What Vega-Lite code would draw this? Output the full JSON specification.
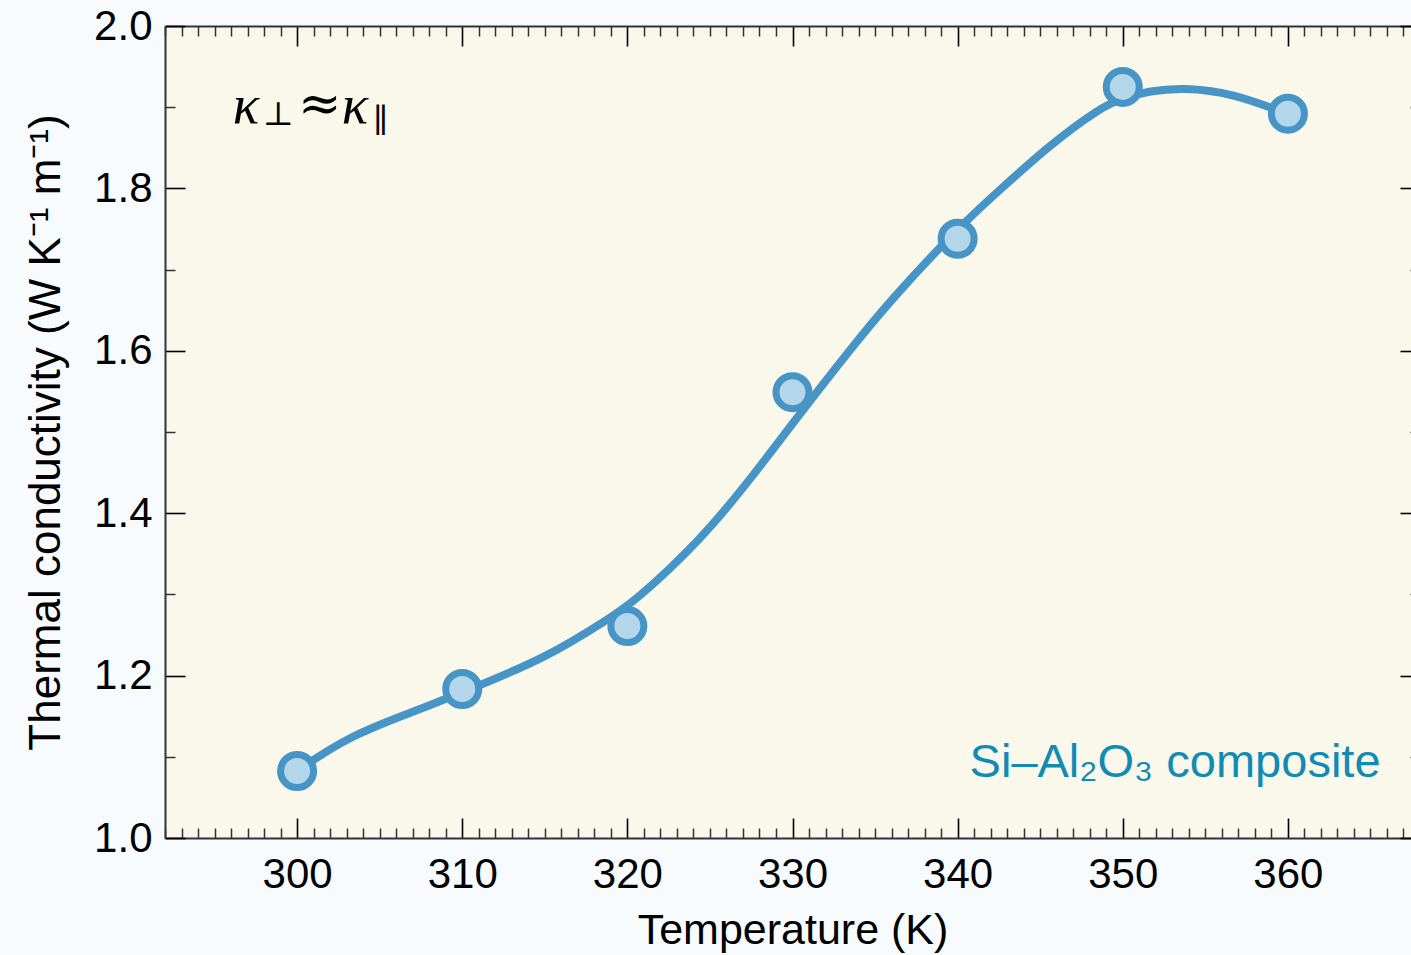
{
  "$schema": "https://vega.github.io/schema/vega-lite/v6.json",
  "width": 1255,
  "height": 812,
  "autosize": {"type": "none"},
  "padding": {"left": 165, "top": 26, "right": -9, "bottom": 117},
  "background": "#f7fbfd",
  "config": {
    "view": {"fill": "#faf7eb", "stroke": null},
    "font": "Liberation Sans",
    "axis": {"grid": false, "labelFont": "Liberation Sans", "titleFont": "Liberation Sans", "labelColor": "#000", "titleColor": "#000", "titleFontWeight": "normal", "labelFlush": false, "labelOverlap": false, "domainColor": "#333", "domainWidth": 2}
  },
  "datasets": {
    "points": [
      {"T": 300, "k": 1.0825},
      {"T": 310, "k": 1.1835},
      {"T": 320, "k": 1.261},
      {"T": 330, "k": 1.549},
      {"T": 340, "k": 1.738},
      {"T": 350, "k": 1.925},
      {"T": 360, "k": 1.892}
    ],
    "curve": [
      {"T": 300.0, "k": 1.0825},
      {"T": 303.02, "k": 1.1244},
      {"T": 307.01, "k": 1.1552},
      {"T": 310.04, "k": 1.1798},
      {"T": 315.12, "k": 1.2217},
      {"T": 319.12, "k": 1.2734},
      {"T": 320.33, "k": 1.2894},
      {"T": 324.39, "k": 1.3658},
      {"T": 327.42, "k": 1.4409},
      {"T": 330.44, "k": 1.5222},
      {"T": 333.47, "k": 1.601},
      {"T": 335.89, "k": 1.6613},
      {"T": 340.01, "k": 1.7512},
      {"T": 342.54, "k": 1.798},
      {"T": 345.57, "k": 1.8534},
      {"T": 348.6, "k": 1.899},
      {"T": 349.99, "k": 1.9113},
      {"T": 351.63, "k": 1.92},
      {"T": 353.62, "k": 1.9243},
      {"T": 356.65, "k": 1.9175},
      {"T": 359.98, "k": 1.8916}
    ]
  },
  "resolve": {"scale": {"x": "shared", "y": "shared"}, "axis": {"x": "independent", "y": "independent"}},
  "layer": [
    {
      "data": {"name": "curve"},
      "mark": {"type": "line", "interpolate": "basis", "color": "#4795c6", "strokeWidth": 8, "strokeCap": "round"},
      "encoding": {
        "x": {"field": "T", "type": "quantitative", "scale": {"domain": [292, 368], "nice": false, "zero": false},
          "axis": {"orient": "bottom", "values": [300, 310, 320, 330, 340, 350, 360], "tickSize": -20, "tickColor": "#000", "tickWidth": 1.6, "labelFontSize": 42, "labelPadding": 36, "title": "Temperature (K)", "titleFontSize": 43, "titlePadding": 14}},
        "y": {"field": "k", "type": "quantitative", "scale": {"domain": [1.0, 2.0], "nice": false, "zero": false},
          "axis": {"orient": "left", "values": [1.0, 1.2, 1.4, 1.6, 1.8, 2.0], "format": ".1f", "tickSize": -20, "tickColor": "#000", "tickWidth": 1.6, "labelFontSize": 42, "labelPadding": 33, "title": "Thermal conductivity (W K⁻¹ m⁻¹)", "titleFontSize": 44, "titlePadding": 25}}
      }
    },
    {
      "data": {"name": "points"},
      "mark": {"type": "point", "filled": true, "fill": "#b3d6ea", "stroke": "#4795c6", "strokeWidth": 7, "size": 1090, "opacity": 1, "fillOpacity": 1, "strokeOpacity": 1},
      "encoding": {
        "x": {"field": "T", "type": "quantitative",
          "axis": {"orient": "bottom", "values": [292,293,294,295,296,297,298,299,301,302,303,304,305,306,307,308,309,311,312,313,314,315,316,317,318,319,321,322,323,324,325,326,327,328,329,331,332,333,334,335,336,337,338,339,341,342,343,344,345,346,347,348,349,351,352,353,354,355,356,357,358,359,361,362,363,364,365,366,367], "tickSize": -10, "tickColor": "#333", "tickWidth": 1.5, "labels": false, "domain": false, "title": null}},
        "y": {"field": "k", "type": "quantitative",
          "axis": {"orient": "left", "values": [1.1, 1.3, 1.5, 1.7, 1.9], "tickSize": -10, "tickColor": "#333", "tickWidth": 1.5, "labels": false, "domain": false, "title": null}}
      }
    },
    {
      "data": {"values": [{"T": 365.61, "k": 1.0751, "label": "Si–Al₂O₃ composite"}]},
      "mark": {"type": "text", "align": "right", "baseline": "alphabetic", "fontSize": 47, "font": "Liberation Sans", "color": "#0f8bb4"},
      "encoding": {
        "x": {"field": "T", "type": "quantitative",
          "axis": {"orient": "top", "values": [300, 310, 320, 330, 340, 350, 360], "tickSize": -20, "tickColor": "#000", "tickWidth": 1.6, "labels": false, "title": null}},
        "y": {"field": "k", "type": "quantitative",
          "axis": {"orient": "right", "values": [1.0, 1.2, 1.4, 1.6, 1.8, 2.0], "tickSize": -20, "tickColor": "#000", "tickWidth": 1.6, "labels": false, "title": null}},
        "text": {"field": "label"}
      }
    },
    {
      "data": {"values": [{"T": 296.1, "k": 1.8805, "label": "κ"}, {"T": 302.7, "k": 1.8805, "label": "κ"}]},
      "mark": {"type": "text", "align": "left", "baseline": "alphabetic", "fontSize": 55, "font": "Liberation Serif", "fontStyle": "italic", "color": "#000"},
      "encoding": {
        "x": {"field": "T", "type": "quantitative",
          "axis": {"orient": "top", "values": [292,293,294,295,296,297,298,299,301,302,303,304,305,306,307,308,309,311,312,313,314,315,316,317,318,319,321,322,323,324,325,326,327,328,329,331,332,333,334,335,336,337,338,339,341,342,343,344,345,346,347,348,349,351,352,353,354,355,356,357,358,359,361,362,363,364,365,366,367], "tickSize": -10, "tickColor": "#333", "tickWidth": 1.5, "labels": false, "domain": false, "title": null}},
        "y": {"field": "k", "type": "quantitative",
          "axis": {"orient": "right", "values": [1.1, 1.3, 1.5, 1.7, 1.9], "tickSize": -10, "tickColor": "#333", "tickWidth": 1.5, "labels": false, "domain": false, "title": null}},
        "text": {"field": "label"}
      }
    },
    {
      "data": {"values": [{"T": 297.9, "k": 1.878, "label": "⊥"}]},
      "mark": {"type": "text", "align": "left", "baseline": "alphabetic", "fontSize": 33, "font": "DejaVu Serif", "color": "#000"},
      "encoding": {
        "x": {"field": "T", "type": "quantitative", "axis": null},
        "y": {"field": "k", "type": "quantitative", "axis": null},
        "text": {"field": "label"}
      }
    },
    {
      "data": {"values": [{"T": 300.05, "k": 1.903, "label": "≈"}]},
      "mark": {"type": "text", "align": "left", "baseline": "middle", "fontSize": 52, "font": "DejaVu Serif", "color": "#000"},
      "encoding": {
        "x": {"field": "T", "type": "quantitative", "axis": null},
        "y": {"field": "k", "type": "quantitative", "axis": null},
        "text": {"field": "label"}
      }
    },
    {
      "data": {"values": [{"T": 304.6, "k": 1.8695, "label": "∥"}]},
      "mark": {"type": "text", "align": "left", "baseline": "alphabetic", "fontSize": 33, "font": "DejaVu Serif", "color": "#000"},
      "encoding": {
        "x": {"field": "T", "type": "quantitative", "axis": null},
        "y": {"field": "k", "type": "quantitative", "axis": null},
        "text": {"field": "label"}
      }
    }
  ]
}
